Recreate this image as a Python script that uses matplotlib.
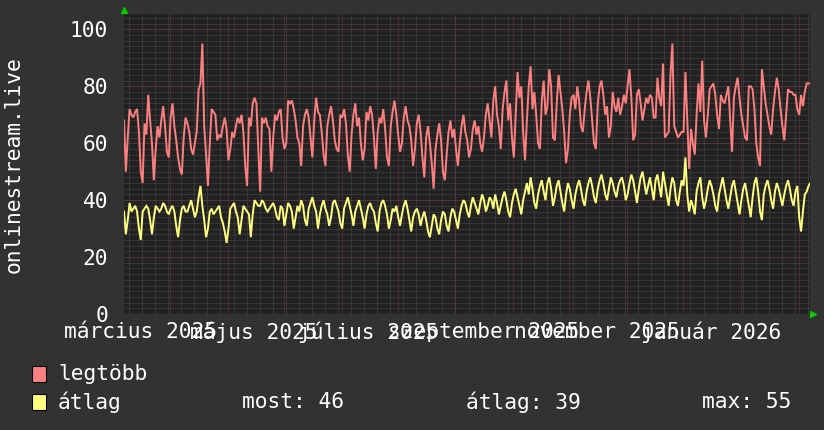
import datetime as dt
import numpy as np
import matplotlib
matplotlib.use("Agg")
import matplotlib.pyplot as plt
import matplotlib.dates as mdates
from matplotlib.patches import Rectangle
from matplotlib.lines import Line2D

# time range of the graph (one daily value per day)
START = dt.datetime(2025, 2, 4, 7)
END = dt.datetime(2026, 2, 7, 2)

# legtöbb (daily max)
legtobb = [
    68, 50, 62, 72, 70, 69, 71, 72, 64, 50, 46, 67, 63, 77, 68, 60, 47, 58, 66, 62,
    68, 73, 66, 57, 55, 69, 74, 66, 61, 55, 51, 49, 62, 69, 67, 64, 58, 56, 60, 64,
    79, 81, 95, 66, 56, 45, 60, 72, 71, 70, 61, 63, 62, 66, 69, 65, 54, 58, 64, 62,
    66, 69, 67, 70, 64, 52, 45, 69, 66, 74, 76, 74, 58, 43, 69, 67, 69, 66, 65, 50,
    62, 70, 68, 71, 72, 62, 58, 60, 75, 74, 75, 72, 68, 62,
    60, 52, 66, 70, 72, 69, 62, 55, 68, 76, 71, 70, 64, 56, 52, 66, 70, 73, 68, 61,
    58, 57, 70, 69, 72, 67, 56, 50, 63, 70, 74, 66, 69, 60, 54, 58, 71, 68, 73, 70,
    62, 51, 64, 69, 67, 72, 65, 55, 52, 66, 71, 75, 70, 63, 57, 60, 69, 73, 68, 66,
    61, 52, 58, 67, 70, 64,
    55, 48, 62, 66, 60, 53, 44, 58, 63, 67, 61, 50, 47, 56, 64, 68, 62, 65, 58, 52,
    60, 66, 70, 64, 61, 55, 58, 65, 68, 63, 66, 60, 57, 62, 70, 74, 68,
    62, 75, 80, 70, 66, 58, 72, 78, 82, 68, 74, 62, 55, 70, 85, 76, 80, 64, 54, 68,
    80, 87, 72, 78, 70, 60, 58, 75, 82, 70, 73, 86, 80, 62, 61, 74, 84, 78, 72, 64,
    53, 58, 70, 76,
    77, 72, 80, 75, 66, 64, 72, 78, 82, 76, 68, 60, 58, 74, 80, 82, 77, 70, 73, 62,
    66, 78, 73, 71, 76, 70, 73, 77, 74, 80, 86, 76, 61, 63, 77, 79, 74, 68, 72, 76,
    74, 77,
    76, 69, 69, 83, 76, 73, 88, 62, 63, 64, 84, 95, 66, 64, 62, 63, 64, 64, 85, 68,
    51, 65, 60, 56, 70, 81, 71, 89, 68, 62, 70, 79, 80, 81, 77, 70, 65, 77, 75, 74,
    77, 80, 68, 57, 76, 80, 83, 76, 70, 66, 62, 61, 80, 80, 79, 72, 60, 55, 52, 86,
    80, 74, 70, 66, 63, 72, 78, 83, 79, 72, 66, 61, 70, 79, 78, 78, 77, 77, 72, 70,
    77, 73, 78, 81, 81, 81,
]

# átlag (daily average)
atlag = [
    36, 28, 33, 39, 36, 37, 38, 36, 30, 26, 36, 37, 38, 37, 33, 28, 34, 38, 37, 36,
    37, 39, 38, 36, 35, 37, 38, 36, 31, 27, 33, 37, 38, 36, 36, 38, 40, 37, 34, 36,
    41, 45, 38, 33, 27, 30, 36, 37, 35, 36, 37, 38, 34, 32, 29, 25, 30, 37, 38, 39,
    36, 34, 28, 33, 38, 37, 36, 35, 27, 35, 40, 39, 38, 38, 40, 39, 37, 36, 37, 38,
    39, 37, 34, 33, 38, 37, 31, 35, 39, 38, 36, 30, 34, 38,
    36, 40, 38, 33, 31, 37, 39, 41, 38, 36, 30, 35, 38, 40, 37, 35, 31, 34, 39, 40,
    38, 36, 32, 30, 37, 39, 41, 38, 35, 31, 36, 38, 40, 37, 34, 30, 35, 38, 39, 37,
    36, 32, 29, 36, 39, 40, 38, 35, 30, 33, 37, 36, 38, 34, 31, 35, 38, 40, 37, 33,
    29, 34, 36, 37, 35, 31,
    34, 36, 33, 29, 27, 31, 35, 34, 30, 28, 33, 36, 35, 31, 29, 34, 37, 36, 33, 30,
    35, 38, 40, 39, 36, 34, 38, 41, 39, 37, 35, 39, 42, 40, 36, 38, 41,
    40, 37, 42, 39, 35, 38, 41, 43, 40, 36, 34, 39, 42, 44, 41, 38, 35, 40, 43, 46,
    42, 48, 44, 39, 37, 42, 45, 47, 43, 40, 46, 48, 44, 38, 41, 45, 47, 43, 39, 36,
    42, 46, 44, 40,
    37, 42, 45, 47, 44, 40, 38, 43, 46, 48, 45, 41, 39, 44, 47, 49, 46, 42, 40, 44,
    48, 46, 43, 41, 45, 47, 48, 45, 40, 42, 46, 49, 47, 43, 39, 44, 48, 50, 46, 42,
    45, 48,
    44, 40, 47, 49, 45, 41, 50, 46, 42, 38, 44, 48, 46, 40, 38, 43, 47, 45, 55, 42,
    36, 40, 38, 35, 43, 46, 48, 41, 37, 40, 44, 47, 45, 42, 38, 36, 42, 45, 48, 44,
    40, 37, 41, 45, 47, 43, 39, 35, 40, 44, 46, 42, 38, 34, 41, 46, 48, 43, 36, 33,
    42, 45, 47, 44, 40, 37, 43, 46, 44, 41, 38, 42, 45, 47, 44, 40, 38, 43, 45, 34,
    29, 36, 42, 43, 45, 46,
]

label_months = [(2025, 3), (2025, 5), (2025, 7), (2025, 9), (2025, 11), (2026, 1)]
label_texts = ["március 2025", "május 2025", "július 2025",
               "szeptember 2025", "november 2025", "január 2026"]
y_ticks = [0, 20, 40, 60, 80, 100]

BACK = "#323232"
CANVAS = "#222222"
MINOR = "#4a4a4a"
MAJOR = "#6a3636"
RED = "#ff8080"
YELLOW = "#ffff80"
FONT = "DejaVu Sans Mono"
FS = 15.3

W, H = 824, 430
fig = plt.figure(figsize=(W / 100, H / 100), dpi=100, facecolor=BACK)
ax = fig.add_axes([124 / W, 116 / H, 686 / W, 300 / H])
ax.set_facecolor(CANVAS)
for s in ax.spines.values():
    s.set_visible(False)

ax.set_xlim(mdates.date2num(START), mdates.date2num(END))
ax.set_ylim(0, 105.4)

# grid: weekly minor, monthly major, y minor every 2, major every 20
dots = (0, (1, 1))
gkw = dict(lw=0.72, ls=dots)
wk = dt.datetime(2025, 2, 7)
while wk < END:
    ax.axvline(mdates.date2num(wk), color=MINOR, zorder=1, **gkw)
    wk += dt.timedelta(days=7)
for yv in np.arange(0, 106, 2):
    ax.axhline(yv, color=MINOR, zorder=1, **gkw)
month_starts = []
y, m = 2025, 3
while dt.datetime(y, m, 1) < END:
    month_starts.append(dt.datetime(y, m, 1))
    y, m = (y + 1, 1) if m == 12 else (y, m + 1)
for ms in month_starts:
    ax.axvline(mdates.date2num(ms), color=MAJOR, zorder=1.5, **gkw)
for yv in y_ticks:
    ax.axhline(yv, color=MAJOR, zorder=1.5, **gkw)

# series
d_red = [START + dt.timedelta(days=i) for i in range(len(legtobb))]
d_yel = [START + dt.timedelta(days=i) for i in range(len(atlag))]
ax.plot(d_red, legtobb, color=RED, lw=1.4, zorder=3, solid_joinstyle="miter")
ax.plot(d_yel, atlag, color=YELLOW, lw=1.4, zorder=3, solid_joinstyle="miter")

# axis labels (rrdtool puts them half a month before the month start)
lab_pos = [mdates.date2num(dt.datetime(y, m, 1) - dt.timedelta(days=16))
           for y, m in label_months]
ax.set_xticks(lab_pos)
ax.set_xticklabels(label_texts)
ax.set_yticks(y_ticks)
ax.set_yticklabels([str(v) for v in y_ticks])
ax.tick_params(axis="x", length=0, pad=5.5, colors="white", labelsize=FS)
ax.tick_params(axis="y", length=0, pad=11.5, colors="white", labelsize=FS)
for t in ax.get_xticklabels() + ax.get_yticklabels():
    t.set_fontfamily(FONT)

fig.text(14 / W, 1 - 165 / H, "onlinestream.live", rotation=90, color="white",
         fontsize=FS, family=FONT, ha="center", va="center")

# arrows at axis ends
fig.add_artist(Line2D([124 / W], [1 - 10 / H], marker="^", color="#00c800",
                      markersize=5, transform=fig.transFigure))
fig.add_artist(Line2D([813 / W], [1 - 314 / H], marker=">", color="#00c800",
                      markersize=5, transform=fig.transFigure))

# legend
most = atlag[-1]
avg = int(round(np.mean(atlag)))
mx = max(atlag)
for yc, col, txt in [(374, RED, "legtöbb"), (402, YELLOW, "átlag")]:
    fig.add_artist(Rectangle((32 / W, 1 - (yc + 8) / H), 14 / W, 16 / H,
                             facecolor=col, edgecolor="black", lw=0.8,
                             transform=fig.transFigure))
    fig.text(58 / W, 1 - yc / H, txt, color="white", fontsize=FS, family=FONT,
             va="center", ha="left")
fig.text(242 / W, 1 - 402 / H, f"most: {most}", color="white", fontsize=FS,
         family=FONT, va="center")
fig.text(466 / W, 1 - 402 / H, f"átlag: {avg}", color="white", fontsize=FS,
         family=FONT, va="center")
fig.text(702 / W, 1 - 402 / H, f"max: {mx}", color="white", fontsize=FS,
         family=FONT, va="center")

fig.savefig("out.png", dpi=100, facecolor=BACK)
